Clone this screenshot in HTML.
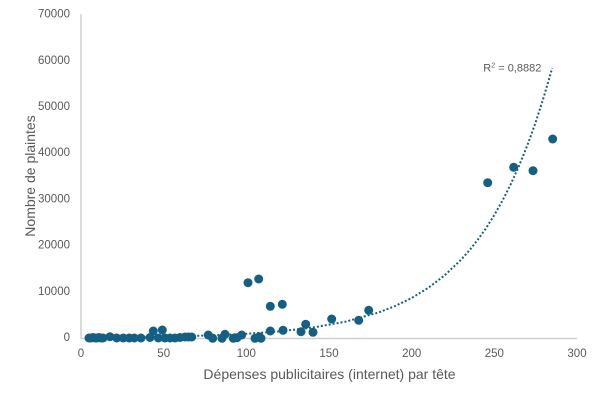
<!DOCTYPE html>
<html>
<head>
<meta charset="utf-8">
<style>
  html, body { margin: 0; padding: 0; background: #ffffff; }
  svg { display: block; }
  text { font-family: "Liberation Sans", Arial, sans-serif; fill: #595959; }
</style>
</head>
<body>
<svg width="602" height="400" viewBox="0 0 602 400" xmlns="http://www.w3.org/2000/svg">
  <rect width="602" height="400" fill="#ffffff"/>
  <line x1="81" y1="14" x2="81" y2="338.5" stroke="#d0d0d0" stroke-width="1.5"/>
  <line x1="81" y1="338.5" x2="577" y2="338.5" stroke="#d0d0d0" stroke-width="1.5"/>

  <g font-size="11.5" text-anchor="end">
    <text x="70" y="341">0</text>
    <text x="70" y="294.8">10000</text>
    <text x="70" y="248.6">20000</text>
    <text x="70" y="202.4">30000</text>
    <text x="70" y="156.2">40000</text>
    <text x="70" y="110">50000</text>
    <text x="70" y="63.8">60000</text>
    <text x="70" y="17.6">70000</text>
  </g>
  <g font-size="11.5" text-anchor="middle">
    <text x="81" y="356.8">0</text>
    <text x="163.7" y="356.8">50</text>
    <text x="246.3" y="356.8">100</text>
    <text x="329" y="356.8">150</text>
    <text x="411.7" y="356.8">200</text>
    <text x="494.3" y="356.8">250</text>
    <text x="577" y="356.8">300</text>
  </g>

  <text x="329.5" y="379" font-size="14" text-anchor="middle">Dépenses publicitaires (internet) par tête</text>
  <text transform="translate(35,176) rotate(-90)" font-size="14" text-anchor="middle">Nombre de plaintes</text>

  <g fill="#156082">
    <circle cx="89" cy="338" r="4.5"/>
    <circle cx="91" cy="338" r="4.5"/>
    <circle cx="93" cy="337.5" r="4.5"/>
    <circle cx="95" cy="338" r="4.5"/>
    <circle cx="97" cy="338" r="4.5"/>
    <circle cx="99" cy="337.5" r="4.5"/>
    <circle cx="101" cy="338" r="4.5"/>
    <circle cx="103" cy="338" r="4.5"/>
    <circle cx="110" cy="336.7" r="4.5"/>
    <circle cx="116.7" cy="338" r="4.5"/>
    <circle cx="123.3" cy="338" r="4.5"/>
    <circle cx="129.3" cy="338" r="4.5"/>
    <circle cx="134.3" cy="338" r="4.5"/>
    <circle cx="141" cy="338" r="4.5"/>
    <circle cx="150" cy="337.5" r="4.5"/>
    <circle cx="153.3" cy="331" r="4.5"/>
    <circle cx="158.3" cy="338" r="4.5"/>
    <circle cx="162.3" cy="330" r="4.5"/>
    <circle cx="165" cy="338" r="4.5"/>
    <circle cx="170" cy="338" r="4.5"/>
    <circle cx="175" cy="338" r="4.5"/>
    <circle cx="180" cy="337.5" r="4.5"/>
    <circle cx="185" cy="337" r="4.5"/>
    <circle cx="188.5" cy="337" r="4.5"/>
    <circle cx="191.7" cy="337" r="4.5"/>
    <circle cx="208.3" cy="335" r="4.5"/>
    <circle cx="212.7" cy="338.3" r="4.5"/>
    <circle cx="222" cy="338.3" r="4.5"/>
    <circle cx="225" cy="334.3" r="4.5"/>
    <circle cx="233.3" cy="338.3" r="4.5"/>
    <circle cx="237" cy="337.7" r="4.5"/>
    <circle cx="241.7" cy="335" r="4.5"/>
    <circle cx="255" cy="338.3" r="4.5"/>
    <circle cx="259.3" cy="336.7" r="4.5"/>
    <circle cx="261" cy="338.3" r="4.5"/>
    <circle cx="248" cy="282.7" r="4.5"/>
    <circle cx="258.7" cy="279" r="4.5"/>
    <circle cx="270.3" cy="306.3" r="4.5"/>
    <circle cx="282.3" cy="304.3" r="4.5"/>
    <circle cx="270.3" cy="331" r="4.5"/>
    <circle cx="283" cy="330.3" r="4.5"/>
    <circle cx="301" cy="331.7" r="4.5"/>
    <circle cx="305.7" cy="324.3" r="4.5"/>
    <circle cx="313" cy="332.3" r="4.5"/>
    <circle cx="331.7" cy="319" r="4.5"/>
    <circle cx="358.7" cy="320.3" r="4.5"/>
    <circle cx="368.7" cy="310.3" r="4.5"/>
    <circle cx="487.7" cy="182.7" r="4.5"/>
    <circle cx="513.7" cy="167.3" r="4.5"/>
    <circle cx="533" cy="170.7" r="4.5"/>
    <circle cx="552.7" cy="139" r="4.5"/>
  </g>

  <polyline fill="none" stroke="#156082" stroke-width="2" stroke-dasharray="2 2"
    points="89.3,337.5 114.1,337.3 147.1,336.9 180.2,336.3 213.3,335.3 246.3,333.8 279.4,331.4 312.5,327.6 345.5,321.7 378.6,312.5 395.1,306 411.7,298 428.2,287.9 444.7,275.3 461.3,259.5 469.5,250.2 477.8,239.7 486.1,228.1 494.3,215 502.6,200.4 510.9,183.9 519.1,165.7 527.4,145.2 535.7,122.2 543.9,96.6 552.2,68.1"/>

  <text x="483.3" y="71.5" font-size="11">R<tspan font-size="7" dy="-4">2</tspan><tspan dy="4"> = 0,8882</tspan></text>
</svg>
</body>
</html>
